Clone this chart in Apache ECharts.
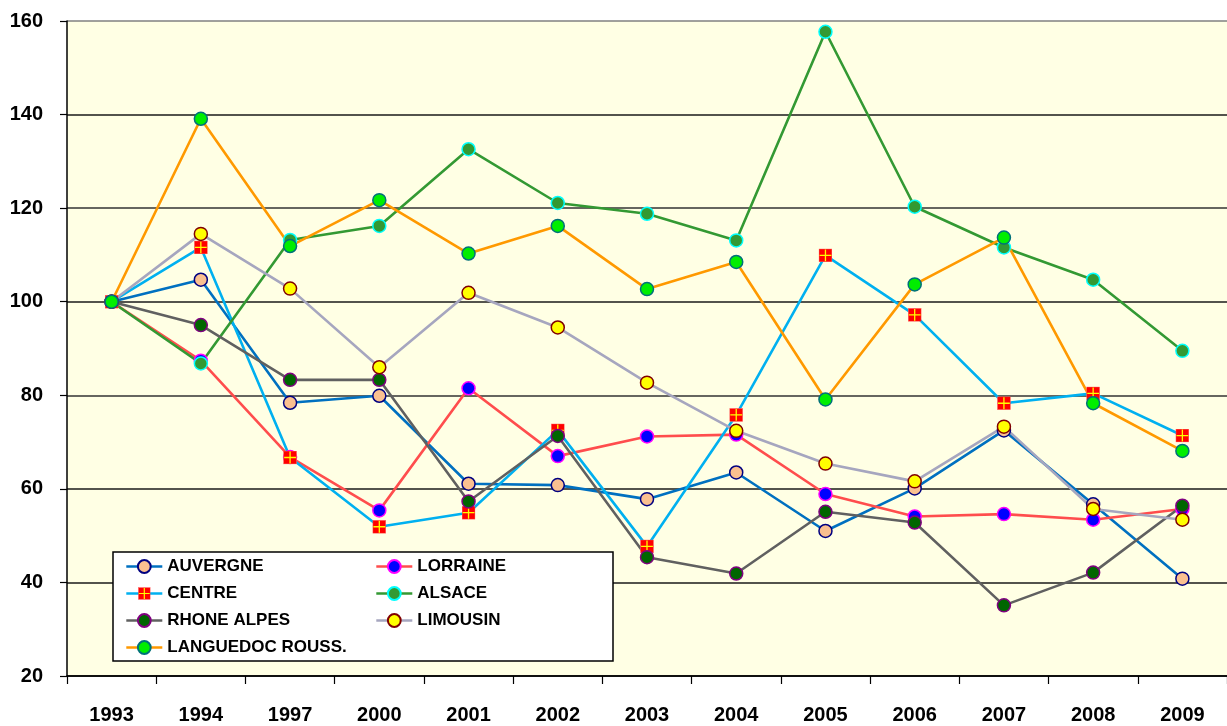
<!DOCTYPE html>
<html>
<head>
<meta charset="utf-8">
<script src="https://cdn.jsdelivr.net/npm/echarts@6/dist/echarts.min.js"></script>
<style>
html,body{margin:0;padding:0;background:#fff;}
#chart{width:1227px;height:726px;}
</style>
</head>
<body>
<div id="chart"></div>
<script>
var categories = ['1993','1994','1997','2000','2001','2002','2003','2004','2005','2006','2007','2008','2009'];
var yTicks = [20, 40, 60, 80, 100, 120, 140, 160];

var auvergne  = [100, 104.7, 78.4, 79.9, 61.1, 60.8, 57.8, 63.5, 51.0, 60.1, 72.5, 56.7, 40.8];
var lorraine  = [100, 87.4, 66.8, 55.4, 81.5, 67.0, 71.2, 71.6, 58.9, 54.1, 54.6, 53.4, 55.7];
var centre    = [100, 111.6, 66.7, 51.9, 54.9, 72.5, 47.7, 75.8, 109.9, 97.2, 78.3, 80.4, 71.4];
var alsace    = [100, 86.8, 113.2, 116.2, 132.6, 121.1, 118.8, 113.1, 157.7, 120.3, 111.6, 104.7, 89.5];
var rhoneAlpes= [100, 95.0, 83.3, 83.3, 57.3, 71.3, 45.4, 41.9, 55.1, 52.8, 35.1, 42.1, 56.4];
var limousin  = [100, 114.5, 102.8, 86.0, 101.9, 94.5, 82.7, 72.4, 65.4, 61.6, 73.3, 55.7, 53.4];
var languedoc = [100, 139.1, 111.9, 121.7, 110.3, 116.2, 102.7, 108.5, 79.1, 103.7, 113.7, 78.3, 68.1];

var seriesNames = ['AUVERGNE','LORRAINE','CENTRE','ALSACE','RHONE ALPES','LIMOUSIN','LANGUEDOC ROUSS.'];

var centreSvg = '<svg xmlns="http://www.w3.org/2000/svg" width="26" height="26" viewBox="0 0 26 26">' +
  '<rect x="1" y="1" width="24" height="24" fill="#FF0000" stroke="#FF6666" stroke-width="1"/>' +
  '<line x1="13" y1="2" x2="13" y2="24" stroke="#FFFF00" stroke-width="2.4"/>' +
  '<line x1="2" y1="13" x2="24" y2="13" stroke="#FFFF00" stroke-width="2.4"/></svg>';
var centreSymbol = 'image://data:image/svg+xml;charset=utf-8,' + encodeURIComponent(centreSvg);

function mk(name, data, lineColor, fill, border, symbol, size) {
  return {
    name: name,
    type: 'line',
    data: data,
    symbol: symbol || 'circle',
    symbolSize: size || 13,
    showAllSymbol: true,
    lineStyle: { color: lineColor, width: 2.6 },
    itemStyle: { color: fill, borderColor: border, borderWidth: 1.5 },
    color: lineColor,
    emphasis: { disabled: true },
    z: 2
  };
}

var fontFam = '"Liberation Sans", Arial, sans-serif';
var legendText = { color: '#000', fontSize: 17, fontWeight: 'bold', fontFamily: fontFam };

var chart = echarts.init(document.getElementById('chart'), null, { renderer: 'canvas' });
var option = {
  animation: false,
  backgroundColor: '#ffffff',
  grid: {
    left: 67, top: 21, right: -10, bottom: 50,
    show: true, backgroundColor: '#FFFFE4', borderWidth: 0
  },
  xAxis: {
    type: 'category',
    data: categories,
    boundaryGap: true,
    axisLine: { lineStyle: { color: '#000', width: 1.5 } },
    axisTick: { show: true, alignWithLabel: false, length: 8, lineStyle: { color: '#000', width: 1.2 } },
    axisLabel: { color: '#000', fontSize: 20, fontWeight: 'bold', fontFamily: fontFam, margin: 29, interval: 0 },
    splitLine: { show: false }
  },
  yAxis: {
    type: 'value',
    min: yTicks[0],
    max: yTicks[yTicks.length - 1],
    interval: 20,
    axisLine: { show: true, lineStyle: { color: '#000', width: 1.5 } },
    axisTick: { show: true, length: 7, lineStyle: { color: '#000', width: 1.2 } },
    axisLabel: { color: '#000', fontSize: 20, fontWeight: 'bold', fontFamily: fontFam, margin: 24 },
    splitLine: { show: true, lineStyle: { color: ['#000','#1a1a1a','#1a1a1a','#333','#1a1a1a','#333','#1a1a1a','#808080'], width: 1.5 } }
  },
  legend: [
    {
      data: [seriesNames[0], seriesNames[2], seriesNames[4], seriesNames[6]],
      orient: 'vertical',
      left: 125, top: 558, padding: 0,
      itemWidth: 36, itemHeight: 16, itemGap: 10,
      selectedMode: false,
      lineStyle: { width: 2.6 },
      textStyle: legendText
    },
    {
      data: [seriesNames[1], seriesNames[3], seriesNames[5]],
      orient: 'vertical',
      left: 375, top: 558, padding: 0,
      itemWidth: 36, itemHeight: 16, itemGap: 10,
      selectedMode: false,
      lineStyle: { width: 2.6 },
      textStyle: legendText
    }
  ],
  graphic: [
    {
      type: 'rect', z: 3,
      shape: { x: 113, y: 552, width: 500, height: 109 },
      style: { fill: '#ffffff', stroke: '#000', lineWidth: 1.5 }
    }
  ],
  series: [
    mk(seriesNames[0], auvergne, '#0070C0', '#FAC090', '#000080'),
    mk(seriesNames[1], lorraine, '#FF4D4D', '#0000FF', '#FF00FF'),
    mk(seriesNames[2], centre, '#00B0F0', '#FF0000', '#FF0000', centreSymbol, 14),
    mk(seriesNames[3], alsace, '#339933', '#339933', '#00FFFF'),
    mk(seriesNames[4], rhoneAlpes, '#606060', '#006600', '#800080'),
    mk(seriesNames[5], limousin, '#A6A6BF', '#FFFF00', '#800000'),
    mk(seriesNames[6], languedoc, '#FF9900', '#00EE00', '#00707A')
  ]
};
chart.setOption(option);
</script>
</body>
</html>
